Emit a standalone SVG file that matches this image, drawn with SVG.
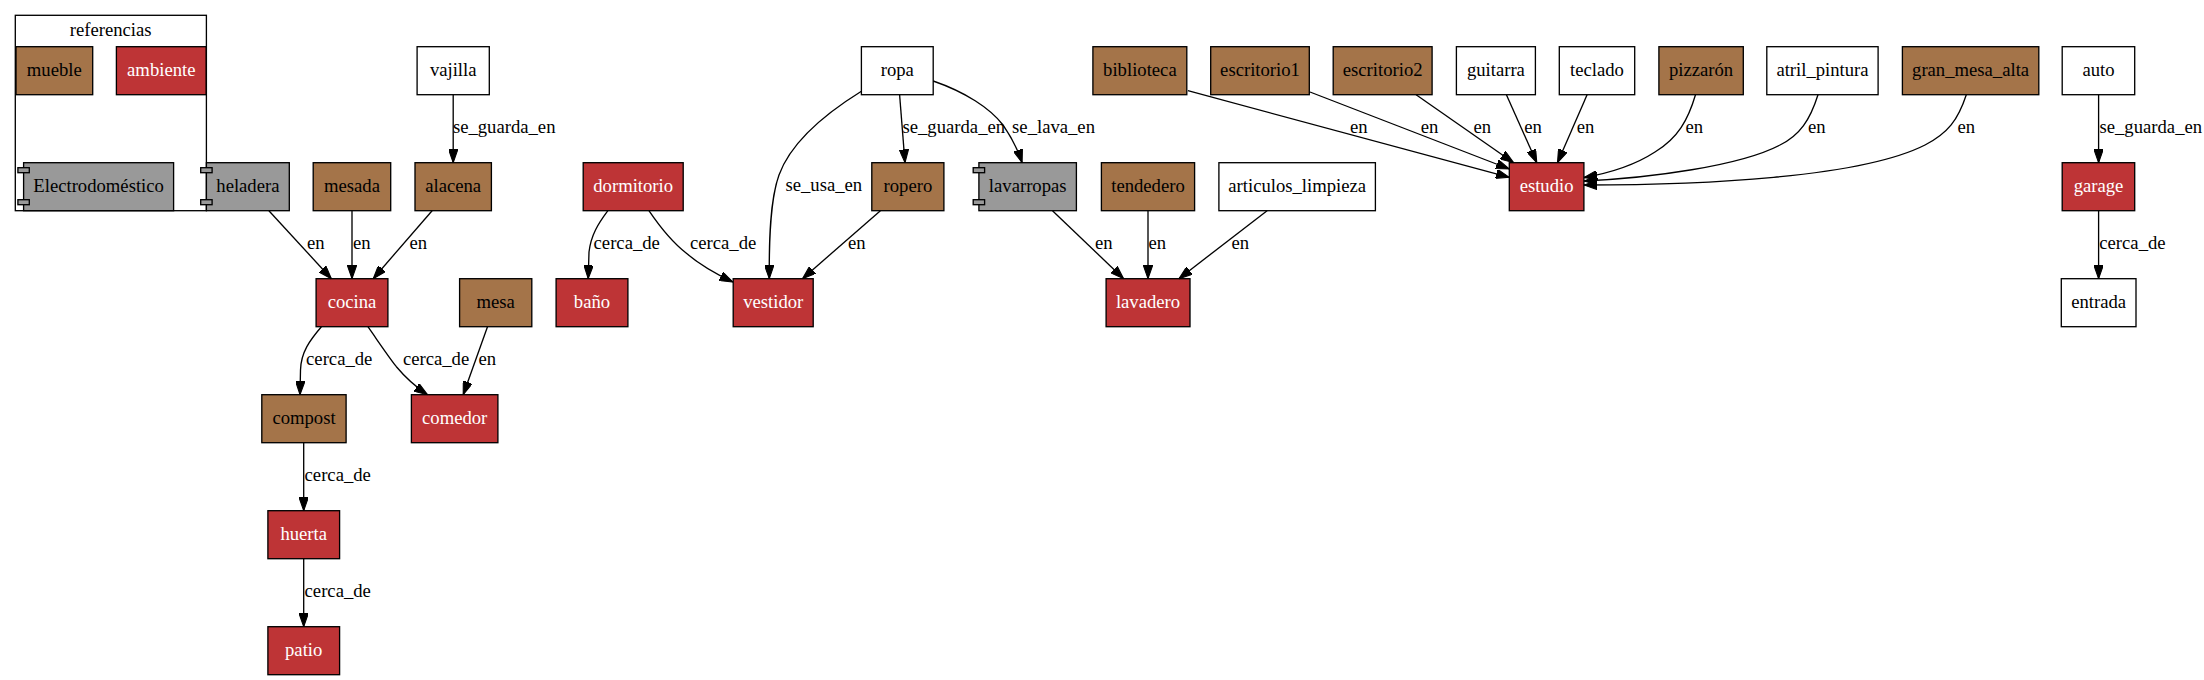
<svg xmlns="http://www.w3.org/2000/svg" width="2204" height="680" viewBox="0 0 2204 680">
<style>
text{font-family:"Liberation Serif","Times New Roman",serif;font-size:18.67px;}
.n rect{stroke:#000;stroke-width:1.33;}
.n text{text-anchor:middle;}
.mu rect{fill:#a47449;}
.am rect{fill:#be3436;}
.am text{fill:#fff;}
.el rect{fill:#999999;}
.ob rect{fill:#fff;}
.e path{fill:none;stroke:#000;stroke-width:1.33;marker-end:url(#ah);}
.l text{text-anchor:start;fill:#000;}
</style>
<defs>
<marker id="ah" viewBox="0 0 10 7" refX="10" refY="3.5" markerWidth="13.3" markerHeight="9.3" markerUnits="userSpaceOnUse" orient="auto">
<path d="M0,0 L10,3.5 L0,7 z" fill="#000" stroke="#000" stroke-width="0.8"/>
</marker>
</defs>
<rect width="2204" height="680" fill="#fff"/>
<g id="cluster_referencias">
<rect x="15.3" y="15.3" width="191.1" height="195.4" fill="none" stroke="#000" stroke-width="1.33"/>
<text x="110.7" y="35.5" text-anchor="middle">referencias</text>
</g>
<g id="mueble" class="n mu"><rect x="16" y="46.7" width="76.7" height="48"/><text x="54.3" y="76">mueble</text></g>
<g id="ambiente" class="n am"><rect x="116.4" y="46.7" width="89.7" height="48"/><text x="161.3" y="76">ambiente</text></g>
<g id="Electrodomestico" class="n el"><rect x="23.6" y="162.7" width="150" height="48"/><rect x="17.9" y="167.7" width="11.4" height="5"/><rect x="17.9" y="199.7" width="11.4" height="5"/><text x="98.6" y="192">Electrodoméstico</text></g>
<g id="heladera" class="n el"><rect x="206.4" y="162.7" width="82.9" height="48"/><rect x="200.7" y="167.7" width="11.4" height="5"/><rect x="200.7" y="199.7" width="11.4" height="5"/><text x="247.9" y="192">heladera</text></g>
<g id="vajilla" class="n ob"><rect x="417.1" y="46.7" width="72.2" height="48"/><text x="453.2" y="76">vajilla</text></g>
<g id="mesada" class="n mu"><rect x="313.2" y="162.7" width="77.5" height="48"/><text x="352" y="192">mesada</text></g>
<g id="alacena" class="n mu"><rect x="415" y="162.7" width="76.4" height="48"/><text x="453.2" y="192">alacena</text></g>
<g id="cocina" class="n am"><rect x="316.1" y="278.7" width="71.8" height="48"/><text x="352" y="308">cocina</text></g>
<g id="mesa" class="n mu"><rect x="459.6" y="278.7" width="72.2" height="48"/><text x="495.7" y="308">mesa</text></g>
<g id="compost" class="n mu"><rect x="261.8" y="394.7" width="84.3" height="48"/><text x="304" y="424">compost</text></g>
<g id="comedor" class="n am"><rect x="411.4" y="394.7" width="86.5" height="48"/><text x="454.7" y="424">comedor</text></g>
<g id="huerta" class="n am"><rect x="267.9" y="510.7" width="71.7" height="48"/><text x="303.7" y="540">huerta</text></g>
<g id="patio" class="n am"><rect x="267.9" y="626.7" width="71.7" height="48"/><text x="303.7" y="656">patio</text></g>
<g id="ropa" class="n ob"><rect x="861.4" y="46.7" width="71.8" height="48"/><text x="897.3" y="76">ropa</text></g>
<g id="dormitorio" class="n am"><rect x="583.2" y="162.7" width="100" height="48"/><text x="633.2" y="192">dormitorio</text></g>
<g id="ropero" class="n mu"><rect x="871.8" y="162.7" width="72.1" height="48"/><text x="907.9" y="192">ropero</text></g>
<g id="lavarropas" class="n el"><rect x="978.9" y="162.7" width="97.5" height="48"/><rect x="973.2" y="167.7" width="11.4" height="5"/><rect x="973.2" y="199.7" width="11.4" height="5"/><text x="1027.7" y="192">lavarropas</text></g>
<g id="bano" class="n am"><rect x="556.1" y="278.7" width="71.8" height="48"/><text x="592" y="308">baño</text></g>
<g id="vestidor" class="n am"><rect x="733.2" y="278.7" width="80" height="48"/><text x="773.2" y="308">vestidor</text></g>
<g id="biblioteca" class="n mu"><rect x="1092.9" y="46.7" width="93.9" height="48"/><text x="1139.9" y="76">biblioteca</text></g>
<g id="escritorio1" class="n mu"><rect x="1210.7" y="46.7" width="98.6" height="48"/><text x="1260" y="76">escritorio1</text></g>
<g id="escritorio2" class="n mu"><rect x="1333.2" y="46.7" width="98.9" height="48"/><text x="1382.7" y="76">escritorio2</text></g>
<g id="guitarra" class="n ob"><rect x="1456.4" y="46.7" width="79" height="48"/><text x="1495.9" y="76">guitarra</text></g>
<g id="teclado" class="n ob"><rect x="1559.3" y="46.7" width="75.4" height="48"/><text x="1597" y="76">teclado</text></g>
<g id="pizzaron" class="n mu"><rect x="1658.9" y="46.7" width="84.4" height="48"/><text x="1701.1" y="76">pizzarón</text></g>
<g id="atril_pintura" class="n ob"><rect x="1766.8" y="46.7" width="111.3" height="48"/><text x="1822.5" y="76">atril_pintura</text></g>
<g id="gran_mesa_alta" class="n mu"><rect x="1902.4" y="46.7" width="136.4" height="48"/><text x="1970.6" y="76">gran_mesa_alta</text></g>
<g id="auto" class="n ob"><rect x="2062.2" y="46.7" width="72.5" height="48"/><text x="2098.5" y="76">auto</text></g>
<g id="garage" class="n am"><rect x="2062.2" y="162.7" width="72.5" height="48"/><text x="2098.5" y="192">garage</text></g>
<g id="entrada" class="n ob"><rect x="2061.3" y="278.7" width="74.7" height="48"/><text x="2098.7" y="308">entrada</text></g>
<g id="tendedero" class="n mu"><rect x="1101.4" y="162.7" width="93.2" height="48"/><text x="1148" y="192">tendedero</text></g>
<g id="articulos_limpieza" class="n ob"><rect x="1218.9" y="162.7" width="156.5" height="48"/><text x="1297.2" y="192">articulos_limpieza</text></g>
<g id="lavadero" class="n am"><rect x="1106.1" y="278.7" width="83.9" height="48"/><text x="1148" y="308">lavadero</text></g>
<g id="estudio" class="n am"><rect x="1509.3" y="162.7" width="74.6" height="48"/><text x="1546.6" y="192">estudio</text></g>
<g id="connectors">
<g class="e">
<path d="M453.2,94.7 V162.7"/>
<path d="M268.9,210.7 L331.4,278.7"/>
<path d="M352,210.7 V278.7"/>
<path d="M432.1,210.7 L373.2,278.7"/>
<path d="M321.4,326.7 C310,340 301,352 300.5,370 L300,394.7"/>
<path d="M367.9,326.7 C378,341 388,356 396.4,366.7 C405,377 416,387 427.5,394.7"/>
<path d="M487.5,326.7 L463.2,394.7"/>
<path d="M303.7,442.7 V510.7"/>
<path d="M303.7,558.7 V626.7"/>
<path d="M861.4,91.3 C820,117 790,145 779,175 C770,200 769,240 769.3,278.7"/>
<path d="M899.6,94.7 L905,162.7"/>
<path d="M933.2,81 C965,92 990,108 1003,125 C1012,138 1018,150 1022.1,162.7"/>
<path d="M607.9,210.7 C598,224 591,235 589,252 L588.2,278.7"/>
<path d="M648.9,210.7 C660,227 673,243 686.4,253.3 C700,265 716,274 732.9,282"/>
<path d="M880.4,210.7 L802.5,278.7"/>
<path d="M1052.5,210.7 L1123.6,278.7"/>
<path d="M1148,210.7 V278.7"/>
<path d="M1267.1,210.7 L1178.9,278.7"/>
<path d="M1187.9,90.7 L1509.3,177.3"/>
<path d="M1310,92 L1509.3,169"/>
<path d="M1416.1,94.7 L1513.6,162.7"/>
<path d="M1506.4,94.7 L1536.8,162.7"/>
<path d="M1587.1,94.7 L1557.5,162.7"/>
<path d="M1695.5,94.7 C1688,120 1678,138 1655,152 C1635,165 1610,173 1583.9,177.5"/>
<path d="M1818,94.7 C1810,120 1800,135 1780,145 C1740,166 1650,178 1583.9,181"/>
<path d="M1966.3,94.7 C1958,120 1948,133 1925,145 C1860,178 1700,185 1583.9,185"/>
<path d="M2098.6,94.7 V162.7"/>
<path d="M2098.6,210.7 V278.7"/>
</g>
<g class="l">
<text x="452.9" y="133">se_guarda_en</text>
<text x="307.1" y="249">en</text>
<text x="352.9" y="249">en</text>
<text x="409.6" y="249">en</text>
<text x="306.1" y="365">cerca_de</text>
<text x="402.9" y="365">cerca_de</text>
<text x="478.6" y="365">en</text>
<text x="304.6" y="481">cerca_de</text>
<text x="304.6" y="597">cerca_de</text>
<text x="785.5" y="191">se_usa_en</text>
<text x="902.5" y="133">se_guarda_en</text>
<text x="1012.1" y="133">se_lava_en</text>
<text x="593.6" y="249">cerca_de</text>
<text x="690" y="249">cerca_de</text>
<text x="847.9" y="249">en</text>
<text x="1095" y="249">en</text>
<text x="1148.6" y="249">en</text>
<text x="1231.4" y="249">en</text>
<text x="1350" y="133">en</text>
<text x="1420.7" y="133">en</text>
<text x="1473.6" y="133">en</text>
<text x="1524.3" y="133">en</text>
<text x="1576.8" y="133">en</text>
<text x="1685.5" y="133">en</text>
<text x="1808" y="133">en</text>
<text x="1957.5" y="133">en</text>
<text x="2099.5" y="133">se_guarda_en</text>
<text x="2099.3" y="249">cerca_de</text>
</g>
</g>
</svg>
